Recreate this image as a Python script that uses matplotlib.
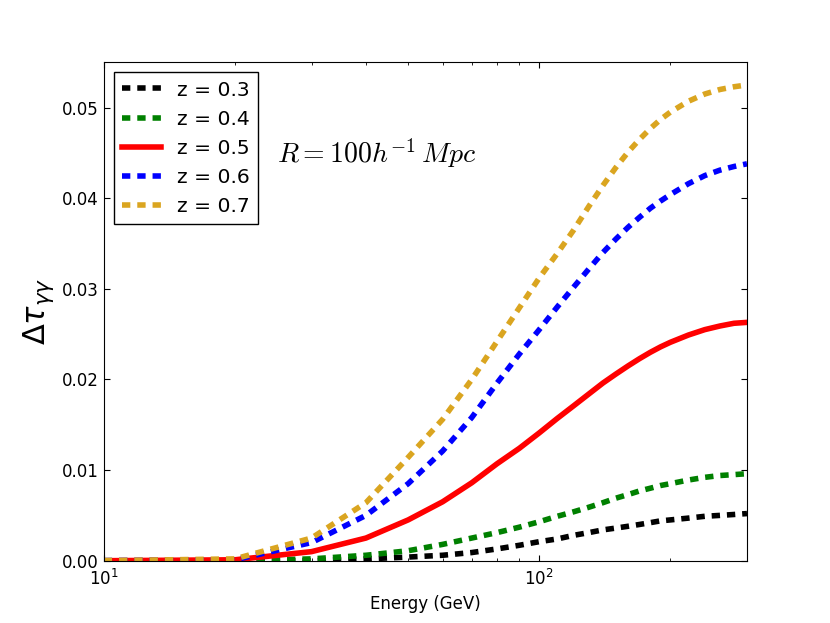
import numpy as np
import matplotlib
matplotlib.use("Agg")
import matplotlib.pyplot as plt
from matplotlib.ticker import FormatStrFormatter

# Energy grid (GeV) and optical depth differences for each redshift
energy = [10, 20, 30, 40, 50, 60, 70, 80, 90, 100, 110, 120, 130, 140, 150,
          160, 170, 180, 190, 200, 220, 240, 260, 280, 300]

tau_z03 = [0.0, 0.0, 0.0, 0.0002, 0.0004, 0.0006, 0.0009, 0.0013, 0.0017, 0.0021,
           0.0024, 0.0028, 0.0031, 0.0034, 0.0036, 0.0038, 0.0040, 0.0042, 0.0044,
           0.0045, 0.0047, 0.0049, 0.0050, 0.0051, 0.0052]
tau_z04 = [0.0, 0.0, 0.0002, 0.0006, 0.0011, 0.0018, 0.0025, 0.0031, 0.0037, 0.0043,
           0.0049, 0.0054, 0.0059, 0.0064, 0.0069, 0.0073, 0.0077, 0.0080, 0.0083,
           0.0085, 0.0089, 0.0092, 0.0094, 0.0095, 0.0096]
tau_z05 = [0.0, 0.0001, 0.0010, 0.0025, 0.0045, 0.0065, 0.0086, 0.0107, 0.0124, 0.0141,
           0.0157, 0.0171, 0.0184, 0.0196, 0.0206, 0.0215, 0.0223, 0.0230, 0.0236,
           0.0241, 0.0249, 0.0255, 0.0259, 0.0262, 0.0263]
tau_z06 = [0.0, 0.0001, 0.0020, 0.0050, 0.0085, 0.0121, 0.0158, 0.0196, 0.0228, 0.0255,
           0.0280, 0.0302, 0.0322, 0.0340, 0.0355, 0.0368, 0.0379, 0.0389, 0.0397,
           0.0404, 0.0416, 0.0425, 0.0431, 0.0435, 0.0438]
tau_z07 = [0.0, 0.0002, 0.0025, 0.0064, 0.0114, 0.0156, 0.0200, 0.0242, 0.0279, 0.0312,
           0.0339, 0.0365, 0.0391, 0.0414, 0.0434, 0.0451, 0.0465, 0.0477, 0.0487,
           0.0495, 0.0507, 0.0515, 0.0520, 0.0523, 0.0525]

labels = ["z = 0.3", "z = 0.4", "z = 0.5", "z = 0.6", "z = 0.7"]
colors = ["k", "g", "r", "b", "goldenrod"]

fig = plt.figure(figsize=(8.3, 6.23), dpi=100)
ax = fig.add_axes([0.125, 0.1, 0.775, 0.8])

series = [tau_z03, tau_z04, tau_z05, tau_z06, tau_z07]
for tau, lab, col in zip(series, labels, colors):
    if lab == "z = 0.5":
        ax.plot(energy, tau, color=col, lw=4, label=lab)
    else:
        ax.plot(energy, tau, color=col, lw=4, ls="--", dashes=(1.5, 1.25),
                dash_capstyle="butt", label=lab)

ax.set_xscale("log")
ax.set_xlim(10, 300)
ax.set_ylim(0, 0.055)
ax.set_yticks([0.0, 0.01, 0.02, 0.03, 0.04, 0.05])
ax.yaxis.set_major_formatter(FormatStrFormatter("%.2f"))

ax.tick_params(which="both", direction="in", top=True, right=True, labelsize=12)
ax.tick_params(which="major", length=4, width=0.8)
ax.tick_params(which="minor", length=2, width=0.6)
ax.tick_params(axis="x", pad=6)

ax.set_xlabel("Energy (GeV)", fontsize=12)
ax.set_ylabel(r"$\Delta\tau_{\gamma\gamma}$", fontsize=22)

ax.text(0.27, 0.818, r"$R=100h^{-1}\,Mpc$", transform=ax.transAxes,
        fontsize=20, math_fontfamily="cm", va="center")

leg = ax.legend(loc="upper left", fontsize=14.6, fancybox=False, framealpha=1,
                handlelength=1.9, borderaxespad=0.5, labelspacing=0.5)
leg.get_frame().set_edgecolor("black")
leg.get_frame().set_linewidth(1.0)

fig.savefig("out.png", dpi=100)
